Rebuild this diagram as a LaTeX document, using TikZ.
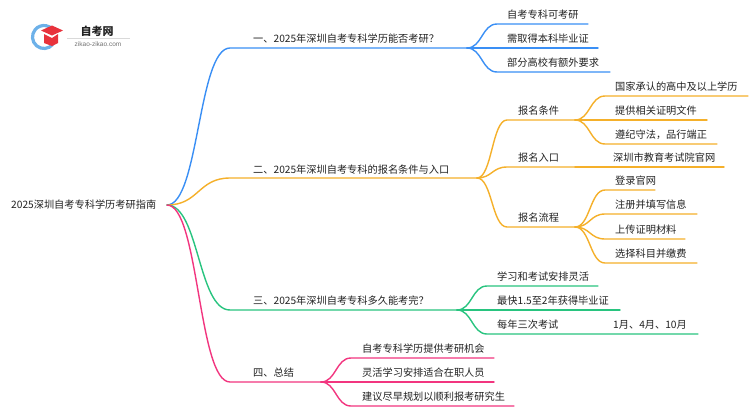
\documentclass[tikz,border=0pt]{standalone}
\usepackage{fontspec}
\setmainfont{Noto Sans CJK SC}
\newfontfamily\latinf{Liberation Sans}
\definecolor{cblue}{HTML}{3A8FF5}
\definecolor{corange}{HTML}{F5B02A}
\definecolor{cgreen}{HTML}{28C47F}
\definecolor{cpink}{HTML}{F2357F}
\definecolor{ctext}{HTML}{222222}
\definecolor{logoblue}{HTML}{2E8FE0}
\definecolor{logored}{HTML}{E8323C}
\begin{document}
\begin{tikzpicture}[x=1pt,y=-1pt,
  txt/.style={anchor=west,inner sep=0pt,font=\fontsize{10.2pt}{12pt}\selectfont,text=ctext},
  link/.style={line width=1.4pt,line cap=round},
  bb/.style={link,draw=cblue},
  oo/.style={link,draw=corange},
  gg/.style={link,draw=cgreen},
  pp/.style={link,draw=cpink}]
\useasboundingbox[fill=white] (0,0) rectangle (750,410);

% logo
\draw[logoblue!70,line width=3.2pt] (44,37) ++(40:11.5) arc[start angle=40,end angle=320,radius=11.5];
\fill[logored] (41,30.5) -- (52,25.5) -- (63,30.5) -- (52,35.5) -- cycle;
\fill[logored] (44,34) -- (52,38) -- (58,34) -- (58,43) -- (52,46) -- (44,43) -- cycle;
\node[inner sep=0pt,font=\fontsize{11pt}{12pt}\selectfont\bfseries,text=ctext] (logot) at (97,31) {自考网};
\draw[black!15,line width=0.5pt] (67,38.5) -- (130,38.5);
\node[inner sep=0pt,font=\latinf\fontsize{6.5pt}{7pt}\selectfont,text=black!55] (logou) at (98,44) {zikao-zikao.com};

% root
\node[txt] (root) at (11,205) {2025深圳自考专科学历考研指南};
\coordinate (r) at (167,205);

% branch coordinates
\coordinate (b1a) at (230,48);  \coordinate (b1b) at (467,48);
\coordinate (b2a) at (230,178); \coordinate (b2b) at (477,178);
\coordinate (b3a) at (230,310); \coordinate (b3b) at (457,310);
\coordinate (b4a) at (230,382); \coordinate (b4b) at (321,382);

\node[txt] (t1) at (253,39) {一、2025年深圳自考专科学历能否考研？};
\node[txt] (t2) at (253,170) {二、2025年深圳自考专科的报名条件与入口};
\node[txt] (t3) at (253,301) {三、2025年深圳自考专科多久能考完？};
\node[txt] (t4) at (253,373) {四、总结};

\draw[bb] (r) .. controls +(32,0) and +(-32,0) .. (b1a) -- (b1b);
\draw[oo] (r) .. controls +(32,0) and +(-32,0) .. (b2a) -- (b2b);
\draw[gg] (r) .. controls +(32,0) and +(-32,0) .. (b3a) -- (b3b);
\draw[pp] (r) .. controls +(32,0) and +(-32,0) .. (b4a) -- (b4b);

% branch 1 children
\node[txt] (c11) at (507,15) {自考专科可考研};
\node[txt] (c12) at (507,39) {需取得本科毕业证};
\node[txt] (c13) at (507,63) {部分高校有额外要求};
\coordinate (c11a) at (497,24); \coordinate (c11b) at (588,24);
\coordinate (c12a) at (497,48); \coordinate (c12b) at (598,48);
\coordinate (c13a) at (497,72); \coordinate (c13b) at (610,72);
\draw[bb] (b1b) .. controls +(15,0) and +(-15,0) .. (c11a) -- (c11b);
\draw[bb] (b1b) -- (c12a) -- (c12b);
\draw[bb] (b1b) .. controls +(15,0) and +(-15,0) .. (c13a) -- (c13b);

% branch 2 children
\node[txt] (c21) at (518,111) {报名条件};
\node[txt] (c22) at (518,158) {报名入口};
\node[txt] (c23) at (518,218) {报名流程};
\coordinate (c21a) at (507,120); \coordinate (c21b) at (575,120);
\coordinate (c22a) at (507,167); \coordinate (c22b) at (575,167);
\coordinate (c23a) at (507,227); \coordinate (c23b) at (575,227);
\draw[oo] (b2b) .. controls +(15,0) and +(-15,0) .. (c21a) -- (c21b);
\draw[oo] (b2b) .. controls +(15,0) and +(-15,0) .. (c22a) -- (c22b);
\draw[oo] (b2b) .. controls +(15,0) and +(-15,0) .. (c23a) -- (c23b);

\node[txt] (g211) at (615,87) {国家承认的高中及以上学历};
\node[txt] (g212) at (615,111) {提供相关证明文件};
\node[txt] (g213) at (615,135) {遵纪守法，品行端正};
\coordinate (g211a) at (605,96);  \coordinate (g211b) at (748,96);
\coordinate (g212a) at (605,120); \coordinate (g212b) at (707,120);
\coordinate (g213a) at (605,144); \coordinate (g213b) at (717,144);
\draw[oo] (c21b) .. controls +(15,0) and +(-15,0) .. (g211a) -- (g211b);
\draw[oo] (c21b) -- (g212a) -- (g212b);
\draw[oo] (c21b) .. controls +(15,0) and +(-15,0) .. (g213a) -- (g213b);

\node[txt] (g221) at (613,158) {深圳市教育考试院官网};
\coordinate (g221b) at (724,167);
\draw[oo] (c22b) -- (g221b);

\node[txt] (g231) at (615,181) {登录官网};
\node[txt] (g232) at (615,205) {注册并填写信息};
\node[txt] (g233) at (615,230) {上传证明材料};
\node[txt] (g234) at (615,254) {选择科目并缴费};
\coordinate (g231a) at (605,190); \coordinate (g231b) at (655,190);
\coordinate (g232a) at (605,214); \coordinate (g232b) at (697,214);
\coordinate (g233a) at (605,239); \coordinate (g233b) at (685,239);
\coordinate (g234a) at (605,263); \coordinate (g234b) at (697,263);
\draw[oo] (c23b) .. controls +(15,0) and +(-15,0) .. (g231a) -- (g231b);
\draw[oo] (c23b) .. controls +(15,0) and +(-15,0) .. (g232a) -- (g232b);
\draw[oo] (c23b) .. controls +(15,0) and +(-15,0) .. (g233a) -- (g233b);
\draw[oo] (c23b) .. controls +(15,0) and +(-15,0) .. (g234a) -- (g234b);

% branch 3 children
\node[txt] (c31) at (497,277) {学习和考试安排灵活};
\node[txt] (c32) at (497,301) {最快1.5至2年获得毕业证};
\node[txt] (c33) at (497,325) {每年三次考试};
\node[txt] (g331) at (613,325) {1月、4月、10月};
\coordinate (c31a) at (487,286); \coordinate (c31b) at (598,286);
\coordinate (c32a) at (487,310); \coordinate (c32b) at (620,310);
\coordinate (c33a) at (487,334); \coordinate (c33b) at (603,334);
\coordinate (g331b) at (698,334);
\draw[gg] (b3b) .. controls +(15,0) and +(-15,0) .. (c31a) -- (c31b);
\draw[gg] (b3b) -- (c32a) -- (c32b);
\draw[gg] (b3b) .. controls +(15,0) and +(-15,0) .. (c33a) -- (c33b) -- (g331b);

% branch 4 children
\node[txt] (c41) at (362,349) {自考专科学历提供考研机会};
\node[txt] (c42) at (362,373) {灵活学习安排适合在职人员};
\node[txt] (c43) at (362,397) {建议尽早规划以顺利报考研究生};
\coordinate (c41a) at (351,358); \coordinate (c41b) at (494,358);
\coordinate (c42a) at (351,382); \coordinate (c42b) at (494,382);
\coordinate (c43a) at (351,406); \coordinate (c43b) at (514,406);
\draw[pp] (b4b) .. controls +(15,0) and +(-15,0) .. (c41a) -- (c41b);
\draw[pp] (b4b) -- (c42a) -- (c42b);
\draw[pp] (b4b) .. controls +(15,0) and +(-15,0) .. (c43a) -- (c43b);
\end{tikzpicture}
\end{document}
